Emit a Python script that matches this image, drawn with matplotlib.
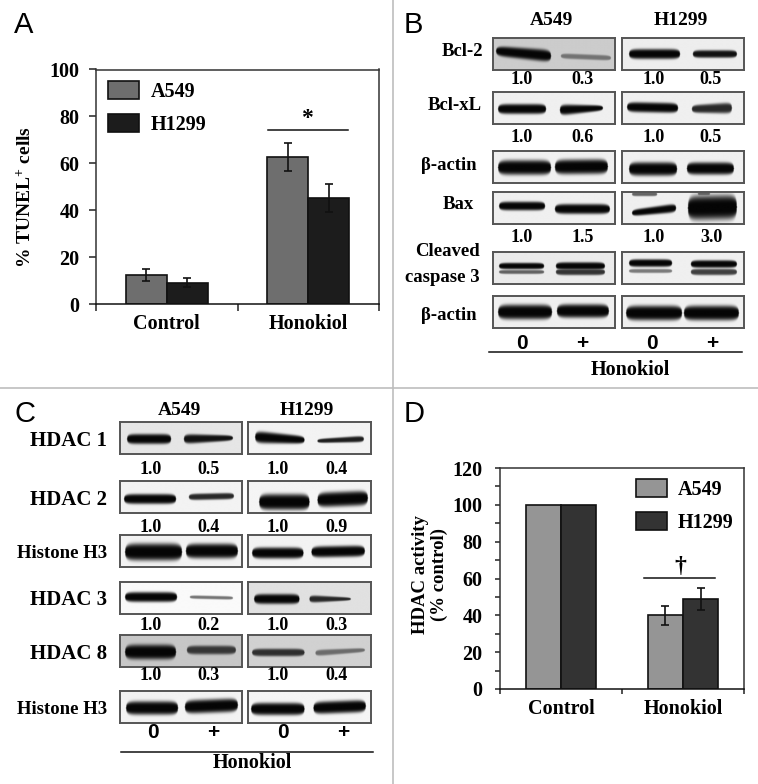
import numpy as np
import matplotlib
matplotlib.use('Agg')
import matplotlib.pyplot as plt

W, H = 758, 784
plt.rcParams['font.family'] = ['Liberation Serif', 'DejaVu Serif']
plt.rcParams['font.weight'] = 'bold'
plt.rcParams['axes.labelweight'] = 'bold'
plt.rcParams['mathtext.fontset'] = 'custom'
plt.rcParams['mathtext.bf'] = 'Liberation Serif:bold'
plt.rcParams['mathtext.rm'] = 'Liberation Serif:bold'
plt.rcParams['mathtext.default'] = 'bf'

groups = ['Control', 'Honokiol']

# panel A values
tunel_a549 = [12.2, 62.8]
tunel_h1299 = [9.0, 45.2]
tunel_a549_err = [2.6, 6.0]
tunel_h1299_err = [1.9, 6.0]

# panel D values
hdac_a549 = [100, 40]
hdac_h1299 = [100, 48.8]
hdac_a549_err = [0, 5.2]
hdac_h1299_err = [0, 6.0]

# bands read from the blots: x0, x1, y0, y1, half height left, half height right, darkness
# each row holds the A549 strip then the H1299 strip
bcl2 = [[(3, 58, 13, 18, 4, 5, 1.0), (68, 118, 18, 20, 2, 2, .45)],
        [(7, 58, 16, 16, 4, 4, 1.0), (71, 115, 16, 16, 3, 3, .95)]]
bclxl = [[(5, 53, 17, 17, 4, 4, 1.0), (67, 110, 18, 16, 4.5, 2, 1.0)],
         [(5, 56, 15, 16, 4, 4, 1.0), (70, 110, 17, 16, 3, 4.5, .85)]]
actin1 = [[(5, 58, 16.5, 16.5, 6, 6, 1.0), (62, 115, 16, 15.5, 6, 6, 1.0)],
          [(7, 55, 18, 18, 5.5, 5.5, 1.0), (65, 112, 17.5, 17.5, 5, 5, 1.0)]]
bax = [[(6, 52, 14, 14, 3.5, 3.5, 1.0), (62, 117, 17, 17, 4, 4, 1.0)],
       [(10, 35, 2, 2, 1.5, 1.5, .6), (10, 54, 21, 16, 2.5, 3.5, 1.0),
        (76, 88, 1.5, 1.5, 1.5, 1.5, .6), (66, 115, 16, 15, 10, 10, 1.0)]]
caspase = [[(6, 51, 14, 14, 2.5, 2.5, 1.0), (6, 51, 20, 20, 1.5, 1.5, .6),
            (63, 112, 14, 14, 3, 3, 1.0), (63, 112, 20, 20, 2.5, 2.5, .8)],
           [(7, 50, 11, 11, 3, 3, 1.0), (7, 50, 19, 19, 1.5, 1.5, .5),
            (69, 115, 12, 12, 3, 3, 1.0), (69, 115, 20, 20, 2.5, 2.5, .75)]]
actin2 = [[(5, 59, 16, 16, 6, 6, 1.0), (64, 116, 15, 15, 5.5, 5.5, 1.0)],
          [(4, 60, 17, 17, 6, 6, 1.0), (62, 117, 17, 17, 6, 6, 1.0)]]

hdac1 = [[(7, 51, 17, 17, 4, 4, 1.0), (64, 113, 17, 16, 4, 2, .95)],
         [(7, 56, 15, 18, 5, 3, 1.0), (69, 115, 19, 17, 1.5, 2.5, .9)]]
hdac2 = [[(4, 56, 18, 18, 4, 4, 1.0), (69, 114, 16, 15, 2.5, 2.5, .85)],
         [(11, 61, 21, 21, 6.5, 6.5, 1.0), (69, 119, 19, 17, 6, 6, 1.0)]]
h3_1 = [[(5, 62, 17, 17, 7, 7, 1.0), (66, 118, 16, 16, 6, 6, 1.0)],
        [(4, 55, 18, 18, 4.5, 4.5, 1.0), (63, 116, 17, 16, 4.5, 4.5, 1.0)]]
hdac3 = [[(5, 57, 15, 15, 4, 4, 1.0), (70, 113, 15, 16, 1.2, 1.2, .55)],
         [(6, 51, 17, 17, 4, 4, 1.0), (61, 102, 17, 17, 3, 1, .85)]]
hdac8 = [[(5, 56, 17, 17, 6, 6, 1.0), (67, 116, 15, 15, 3.5, 3.5, .75)],
         [(4, 56, 17.5, 17.5, 3, 3, .8), (67, 116, 18, 15, 2.5, 1.5, .5)]]
h3_2 = [[(6, 58, 17, 17, 5.5, 5.5, 1.0), (65, 118, 16, 14, 5.5, 5.5, 1.0)],
        [(3, 56, 18, 18, 5, 5, 1.0), (65, 117, 17, 15, 5, 5, 1.0)]]

blots_b = [bcl2, bclxl, actin1, bax, caspase, actin2]
blots_c = [hdac1, hdac2, h3_1, hdac3, hdac8, h3_2]
bg_b = [(.80, .93), (.94, .94), (.94, .94), (.94, .94), (.92, .94), (.94, .94)]
bg_c = [(.90, .95), (.95, .96), (.95, .95), (.98, .88), (.78, .82), (.95, .96)]

labels_b = ['Bcl-2', 'Bcl-xL', 'β-actin', 'Bax', 'Cleaved', 'caspase 3', 'β-actin']
labels_c = ['HDAC 1', 'HDAC 2', 'Histone H3', 'HDAC 3', 'HDAC 8', 'Histone H3']
ratios_b = [['1.0', '0.3', '1.0', '0.5'], ['1.0', '0.6', '1.0', '0.5'], ['1.0', '1.5', '1.0', '3.0']]
ratios_c = [['1.0', '0.5', '1.0', '0.4'], ['1.0', '0.4', '1.0', '0.9'],
            ['1.0', '0.2', '1.0', '0.3'], ['1.0', '0.3', '1.0', '0.4']]
doses = ['0', '+', '0', '+']
lines_ab = ['A549', 'H1299']


def px_axes(left, top, right, bottom):
    return fig.add_axes([left / W, 1 - bottom / H, (right - left) / W, (bottom - top) / H])


def bar_panel(ax, a549, h1299, a_err, h_err, colors, ymax, major, minor=None, bar=0.29, tick=5, pad=7):
    x = np.array([0.5, 1.5])
    err_kw = dict(ecolor='#111111', elinewidth=1.2, capsize=3, capthick=1.2)
    ax.bar(x - bar / 2, a549, bar, color=colors[0], edgecolor='#111111', linewidth=1.2,
           yerr=[e if e else np.nan for e in a_err], error_kw=err_kw, label='A549')
    ax.bar(x + bar / 2, h1299, bar, color=colors[1], edgecolor='#111111', linewidth=1.2,
           yerr=[e if e else np.nan for e in h_err], error_kw=err_kw, label='H1299')
    ax.set_xlim(0, 2)
    ax.set_ylim(0, ymax)
    ax.set_yticks(major)
    if minor is not None:
        ax.set_yticks(minor, minor=True)
    ax.set_xticks([0, 1, 2])
    ax.set_xticklabels([])
    ax.set_xticks(x, groups, minor=True)
    ax.tick_params(axis='x', which='minor', length=0, labelsize=14.5, pad=7)
    ax.tick_params(axis='x', which='major', length=tick, width=1.1, color='#222222')
    ax.tick_params(axis='y', which='both', length=tick, width=1.1, color='#222222', labelsize=14.5, pad=pad)
    for s in ax.spines.values():
        s.set_linewidth(1.1)
        s.set_color('#333333')
    ax.spines['bottom'].set_color('#111111')


def strip(ax, bands, bg):
    # 3 samples per pixel, strip is 122 x 32 px
    xs = np.linspace(0, 122, 367)
    ys = np.linspace(0, 32, 97)
    xx, yy = np.meshgrid(xs, ys)
    dark = np.zeros_like(xx)
    for x0, x1, y0, y1, h0, h1, d in bands:
        u = np.clip((xx - x0) / (x1 - x0), 0, 1)
        yc = y0 + (y1 - y0) * u
        hh = (h0 + (h1 - h0) * u) * 1.2
        taper = np.clip(1 - np.abs(2 * u - 1) ** 8, 0.0001, 1) ** 0.35
        inside = (xx >= x0) & (xx <= x1)
        one = d * np.exp(-(np.abs(yy - yc) / (hh * taper + 0.3)) ** 4) * inside
        dark = np.maximum(dark, one)
    img = bg - (bg - 0.02) * dark
    ax.imshow(img, cmap='gray', vmin=0, vmax=1, extent=[0, 122, 32, 0], aspect='auto',
              interpolation='bilinear')
    ax.set_xticks([])
    ax.set_yticks([])
    for s in ax.spines.values():
        s.set_linewidth(1.4)
        s.set_color('#555555')


fig = plt.figure(figsize=(W / 100, H / 100), dpi=100)

# overlay in pixel coordinates for dividers, labels and captions
over = fig.add_axes([0, 0, 1, 1], zorder=5)
over.set_xlim(0, W)
over.set_ylim(H, 0)
over.axis('off')
over.patch.set_alpha(0)
over.plot([392.5, 392.5], [0, H], color='#bdbdbd', lw=1.2)
over.plot([0, W], [388, 388], color='#bdbdbd', lw=1.2)

for letter, lx, ly in zip('ABCD', [14, 404, 14, 404], [25, 25, 414, 414]):
    over.text(lx, ly, letter, fontsize=21, family='Liberation Sans', weight='normal',
              ha='left', va='center')

# panel A
ax_a = px_axes(96, 69.5, 379, 304)
bar_panel(ax_a, tunel_a549, tunel_h1299, tunel_a549_err, tunel_h1299_err,
          ['#6e6e6e', '#1c1c1c'], 100, range(0, 101, 20))
ax_a.set_ylabel('% TUNEL$^{+}$ cells', fontsize=14)
ax_a.yaxis.set_label_coords((35 - 96) / 283, 0.456)
ax_a.plot([1.215, 1.78], [74, 74], color='#111111', lw=1.1)
ax_a.text(1.49, 79, '*', fontsize=17, ha='center', va='center')
ax_a.legend(loc='upper left', bbox_to_anchor=(12 / 283, 1 - 11.5 / 234.5), frameon=False,
            fontsize=14.5, handlelength=1.53, handleheight=1.0, labelspacing=0.62,
            handletextpad=0.6, borderpad=0, borderaxespad=0)

# panel D
ax_d = px_axes(500, 468, 744, 689)
bar_panel(ax_d, hdac_a549, hdac_h1299, hdac_a549_err, hdac_h1299_err,
          ['#959595', '#333333'], 120, range(0, 121, 20), range(10, 120, 20), bar=0.287,
          tick=3.6, pad=9)
ax_d.set_ylabel('HDAC activity\n(% control)', fontsize=13.5, linespacing=1.1)
ax_d.yaxis.set_label_coords((448 - 500) / 244, 0.516)
ax_d.plot([1.18, 1.76], [60.3, 60.3], color='#111111', lw=1.1)
ax_d.text(1.48, 66.5, '†', fontsize=17, ha='center', va='center')
ax_d.legend(loc='upper left', bbox_to_anchor=(136 / 244, 1 - 11 / 221), frameon=False,
            fontsize=14.5, handlelength=1.53, handleheight=1.0, labelspacing=0.62,
            handletextpad=0.55, borderpad=0, borderaxespad=0)

# panel B strips
tops_b = [38, 92, 151, 192, 252, 296]
for row, top in enumerate(tops_b):
    strip(px_axes(493, top, 615, top + 32), blots_b[row][0], bg_b[row][0])
    strip(px_axes(622, top, 744, top + 32), blots_b[row][1], bg_b[row][1])

# panel C strips
tops_c = [422, 481, 535, 582, 635, 691]
for row, top in enumerate(tops_c):
    strip(px_axes(120, top, 242, top + 32), blots_c[row][0], bg_c[row][0])
    strip(px_axes(248, top, 371, top + 32), blots_c[row][1], bg_c[row][1])

for name, x in zip(lines_ab, [552, 681]):
    over.text(x, 20, name, fontsize=14, ha='center', va='center')
for name, x in zip(lines_ab, [179, 307]):
    over.text(x, 410, name, fontsize=14, ha='center', va='center')

for name, x, y in zip(labels_b, [462, 455, 449, 458, 447, 442, 449], [51, 105, 165, 204, 251, 277, 315]):
    over.text(x, y, name, fontsize=13.5, ha='center', va='center')
for name, x, y in zip(labels_c, [69, 69, 62, 69, 69, 62], [441, 500, 554, 600, 654, 710]):
    over.text(x, y, name, fontsize=15 if 'HDAC' in name else 13.5, ha='center', va='center')

xs_b = [522, 583, 654, 711]
xs_c = [151, 208, 278, 336]
for vals, y in zip(ratios_b, [79, 137, 237]):
    for v, x in zip(vals, xs_b):
        over.text(x, y, v, fontsize=13, ha='center', va='center')
for vals, y in zip(ratios_c, [469, 527, 626, 676]):
    for v, x in zip(vals, xs_c):
        over.text(x, y, v, fontsize=13, ha='center', va='center')

for d, x in zip(doses, [522, 582, 652, 712]):
    over.text(x, 343, d, fontsize=15, family='Liberation Sans', ha='center', va='center')
for d, x in zip(doses, [153, 213, 283, 343]):
    over.text(x, 733, d, fontsize=15, family='Liberation Sans', ha='center', va='center')

over.plot([489, 742], [352, 352], color='#111111', lw=1.1)
over.plot([121, 373], [752, 752], color='#111111', lw=1.1)
over.text(630, 370, 'Honokiol', fontsize=14.5, ha='center', va='center')
over.text(252, 763, 'Honokiol', fontsize=14.5, ha='center', va='center')

fig.savefig('out.png', dpi=100)
